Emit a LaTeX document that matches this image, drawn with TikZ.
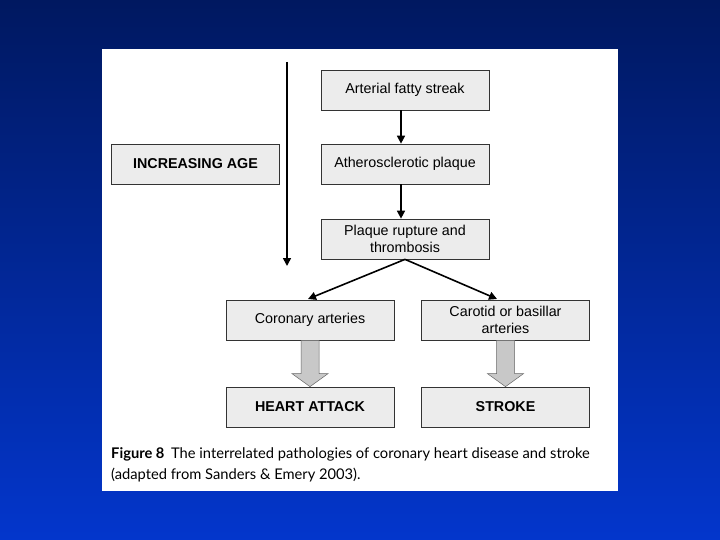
\documentclass[tikz,border=0pt]{standalone}
\usepackage{fontspec}
\setmainfont{Liberation Sans}
\newfontfamily\capfont{Lato}
\usetikzlibrary{calc,arrows.meta}
\definecolor{bgtop}{HTML}{001860}
\definecolor{bgbot}{HTML}{0336CC}
\definecolor{boxfill}{HTML}{ECECEC}
\definecolor{blockfill}{HTML}{C8C8C8}
\begin{document}
\begin{tikzpicture}[x=1pt,y=-1pt,
  box/.style={draw=black!80,line width=0.7pt,fill=boxfill,minimum width=168pt,minimum height=40pt,inner sep=0pt,align=center,font=\fontsize{14.3}{17}\selectfont},
  boldbox/.style={box,font=\fontsize{14.3}{17}\selectfont\bfseries},
  arr/.style={line width=1.6pt,-{Triangle[length=8pt,width=8pt]}},
  blockarrow/.style={draw=black!60,line width=0.5pt,fill=blockfill},
  caption/.style={anchor=base west,inner sep=0pt,font=\capfont\fontsize{14.7}{18}\selectfont}]
\useasboundingbox (0,0) rectangle (720,540);
\shade[top color=bgtop,bottom color=bgbot] (0,0) rectangle (720,540);
\fill[white] (102,49) rectangle (618,491);
% boxes
\node[box] (fat) at (405,90) {Arterial fatty streak};
\node[boldbox] (age) at (195.5,164) {INCREASING AGE};
\node[box] (ath) at (405,164) {Atherosclerotic plaque};
\node[box] (rup) at (405,239) {Plaque rupture and\\thrombosis};
\node[box] (cor) at (310,320) {Coronary arteries};
\node[box] (car) at (505.5,320) {Carotid or basillar\\arteries};
\node[boldbox] (ha) at (310,407) {HEART ATTACK};
\node[boldbox] (st) at (505.5,407) {STROKE};
% increasing age arrow
\coordinate (ageTop) at (287,62);
\coordinate (ageBot) at (287,266);
\draw[arr] (ageTop) -- (ageBot);
% chain arrows
\draw[arr] ($(fat.south)+(-4,0)$) -- ($(ath.north)+(-4,0)$);
\draw[arr] ($(ath.south)+(-4,0)$) -- ($(rup.north)+(-4,0)$);
\coordinate (corIn) at (308,299);
\coordinate (carIn) at (497,299);
\draw[arr] (rup.south) -- (corIn);
\draw[arr] (rup.south) -- (carIn);
% block arrows
\foreach \a/\b in {cor/ha,car/st}{
  \draw[blockarrow] ($(\a.south)+(-9,0)$) -- ($(\a.south)+(9,0)$)
    -- ($(\b.north)+(9,-13)$) -- ($(\b.north)+(18,-13)$) -- (\b.north)
    -- ($(\b.north)+(-18,-13)$) -- ($(\b.north)+(-9,-13)$) -- cycle;
}
% caption
\node[caption] (cap1) at (111,458) {\textbf{Figure 8}\hspace{0.45em}The interrelated pathologies of coronary heart disease and stroke};
\node[caption] (cap2) at (111,479) {(adapted from Sanders \& Emery 2003).};
\end{tikzpicture}
\end{document}
